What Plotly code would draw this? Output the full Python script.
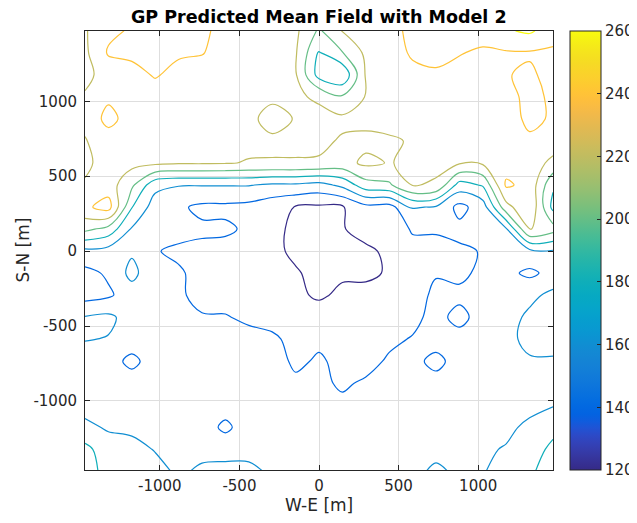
import plotly.graph_objects as go

# Grid coordinates (m)
x_coords = [-1470, -1323, -1176, -1029, -882, -735, -588, -441, -294, -147, 0,
            147, 294, 441, 588, 735, 882, 1029, 1176, 1323, 1470]
y_coords_top_down = [1470, 1323, 1176, 1029, 882, 735, 588, 441, 294, 147, 0,
                     -147, -294, -441, -588, -735, -882, -1029, -1176, -1323, -1470]

# Predicted mean field, one list per W-E column, values listed from north (top) to south (bottom)
field_columns = [
    [218, 216, 215, 222, 224, 219, 216, 222, 236, 205, 155, 134, 132, 161, 161, 150, 150, 154, 164, 186, 190],
    [236, 242, 228, 236, 247, 229, 228, 230, 248, 193, 152, 143, 137, 164, 159, 148, 148, 150, 158, 168, 172],
    [242, 245, 232, 230, 230, 228, 226, 204, 181, 158, 157, 166, 150, 152, 150, 135, 149, 151, 156, 166, 170],
    [244, 246, 242, 229, 228, 228, 224, 166, 150, 148, 141, 145, 148, 150, 150, 149, 148, 150, 153, 159, 166],
    [244, 243, 233, 228, 227, 226, 222, 161, 143, 146, 137, 142, 142, 143, 146, 149, 149, 150, 151, 153, 157],
    [243, 241, 231, 229, 226, 225, 222, 161, 136, 143, 136, 135, 136, 141, 146, 149, 149, 150, 151, 155, 163],
    [235, 232, 229, 227, 225, 225, 221, 161, 136, 143, 134, 133, 134, 141, 147, 149, 149, 150, 135, 155, 164],
    [232, 230, 228, 226, 224, 224, 219, 161, 134, 137, 130, 130, 131, 137, 145, 149, 150, 151, 152, 156, 163],
    [230, 229, 227, 223, 214, 223, 219, 157, 127, 125, 125, 127, 128, 134, 143, 147, 149, 150, 151, 154, 158],
    [224, 222, 222, 222, 221, 223, 219, 157, 119, 116, 116, 122, 124, 132, 135, 137, 143, 148, 150, 152, 155],
    [197, 178, 172, 218, 224, 224, 218, 153, 117, 113, 113, 114, 117, 130, 137, 142, 143, 146, 148, 149, 150],
    [221, 199, 162, 203, 224, 218, 213, 165, 118, 119, 115, 117, 124, 131, 134, 136, 138, 143, 146, 148, 150],
    [230, 224, 222, 221, 226, 215, 224, 192, 134, 126, 117, 116, 126, 131, 134, 135, 142, 146, 148, 150, 152],
    [236, 233, 230, 229, 228, 217, 219, 197, 132, 128, 123, 122, 130, 134, 137, 142, 145, 147, 148, 150, 152],
    [243, 242, 236, 232, 229, 222, 224, 221, 162, 142, 134, 134, 134, 136, 141, 144, 146, 148, 149, 151, 153],
    [244, 244, 238, 232, 229, 228, 224, 218, 158, 142, 134, 139, 143, 145, 146, 136, 145, 148, 150, 152, 165],
    [244, 241, 234, 231, 228, 228, 222, 172, 134, 145, 137, 136, 144, 135, 146, 146, 147, 149, 151, 153, 155],
    [248, 237, 233, 231, 230, 230, 223, 182, 150, 148, 141, 144, 146, 147, 148, 149, 151, 153, 156, 158, 159],
    [258, 238, 239, 234, 232, 232, 232, 243, 213, 158, 150, 145, 150, 152, 155, 155, 154, 157, 157, 161, 166],
    [263, 238, 243, 245, 244, 237, 232, 234, 238, 222, 155, 136, 155, 164, 165, 158, 154, 156, 163, 170, 176],
    [250, 236, 234, 237, 238, 232, 214, 183, 174, 208, 158, 146, 165, 170, 170, 157, 153, 159, 174, 185, 192],
]

x_tick_values = [-1000, -500, 0, 500, 1000]
x_tick_labels = ['-1000', '-500', '0', '500', '1000']
y_tick_values = [-1000, -500, 0, 500, 1000]
y_tick_labels = ['-1000', '-500', '0', '500', '1000']
colorbar_ticks = [120, 140, 160, 180, 200, 220, 240, 260]

# MATLAB parula (64 entries)
parula_rgb = [
    (0.2081, 0.1663, 0.5292), (0.2116, 0.1898, 0.5777), (0.2123, 0.2138, 0.6270), (0.2081, 0.2386, 0.6771),
    (0.1959, 0.2645, 0.7279), (0.1707, 0.2919, 0.7792), (0.1253, 0.3242, 0.8303), (0.0591, 0.3598, 0.8683),
    (0.0117, 0.3875, 0.8820), (0.0060, 0.4086, 0.8828), (0.0165, 0.4266, 0.8786), (0.0329, 0.4430, 0.8720),
    (0.0498, 0.4586, 0.8641), (0.0629, 0.4737, 0.8554), (0.0723, 0.4887, 0.8467), (0.0779, 0.5040, 0.8384),
    (0.0793, 0.5200, 0.8312), (0.0749, 0.5375, 0.8263), (0.0641, 0.5570, 0.8240), (0.0488, 0.5772, 0.8228),
    (0.0343, 0.5966, 0.8199), (0.0265, 0.6137, 0.8135), (0.0239, 0.6287, 0.8038), (0.0231, 0.6418, 0.7913),
    (0.0228, 0.6535, 0.7768), (0.0267, 0.6642, 0.7607), (0.0384, 0.6743, 0.7436), (0.0590, 0.6838, 0.7254),
    (0.0843, 0.6928, 0.7062), (0.1133, 0.7015, 0.6859), (0.1453, 0.7098, 0.6646), (0.1801, 0.7177, 0.6424),
    (0.2178, 0.7250, 0.6193), (0.2586, 0.7317, 0.5954), (0.3022, 0.7376, 0.5712), (0.3482, 0.7424, 0.5473),
    (0.3953, 0.7459, 0.5244), (0.4420, 0.7481, 0.5033), (0.4871, 0.7491, 0.4840), (0.5300, 0.7491, 0.4661),
    (0.5709, 0.7485, 0.4494), (0.6099, 0.7473, 0.4337), (0.6473, 0.7456, 0.4188), (0.6834, 0.7435, 0.4044),
    (0.7184, 0.7411, 0.3905), (0.7525, 0.7384, 0.3768), (0.7858, 0.7356, 0.3633), (0.8185, 0.7327, 0.3498),
    (0.8507, 0.7299, 0.3360), (0.8824, 0.7274, 0.3217), (0.9139, 0.7258, 0.3063), (0.9450, 0.7261, 0.2886),
    (0.9739, 0.7314, 0.2666), (0.9938, 0.7455, 0.2403), (0.9990, 0.7653, 0.2164), (0.9955, 0.7861, 0.1967),
    (0.9880, 0.8066, 0.1794), (0.9789, 0.8271, 0.1633), (0.9697, 0.8481, 0.1475), (0.9626, 0.8705, 0.1309),
    (0.9589, 0.8949, 0.1132), (0.9598, 0.9218, 0.0948), (0.9661, 0.9514, 0.0755), (0.9763, 0.9831, 0.0538),
]
n = len(parula_rgb)
parula = [[k / (n - 1), 'rgb(%d,%d,%d)' % (round(r * 255), round(g * 255), round(b * 255))]
          for k, (r, g, b) in enumerate(parula_rgb)]

# Build z (rows from south to north)
nrows = len(y_coords_top_down)
y_coords = list(reversed(y_coords_top_down))
z_rows = [[col[nrows - 1 - r] for col in field_columns] for r in range(nrows)]

AX = '#262626'
fig = go.Figure()
fig.add_trace(go.Contour(
    x=x_coords, y=y_coords, z=z_rows,
    colorscale=parula, zauto=False, zmin=120, zmax=260,
    autocontour=False,
    contours=dict(start=120, end=260, size=20, coloring='lines', showlabels=False),
    line=dict(width=1.2, smoothing=1.0),
    showscale=False, hoverinfo='skip',
))
# colour bar
fig.add_trace(go.Scatter(
    x=[None], y=[None], mode='markers', showlegend=False, hoverinfo='skip',
    marker=dict(color=[120], colorscale=parula, cmin=120, cmax=260, showscale=True,
                colorbar=dict(x=1.0363, xanchor='left', y=0.5, yanchor='middle', len=1.0,
                              lenmode='fraction', thickness=31, thicknessmode='pixels',
                              outlinewidth=1, outlinecolor=AX, ticks='inside', ticklen=4,
                              tickcolor=AX, tickvals=colorbar_ticks,
                              ticktext=[str(v) for v in colorbar_ticks],
                              tickfont=dict(size=15, color=AX), xpad=0, ypad=0)),
))

axis_common = dict(ticks='inside', ticklen=5, tickcolor=AX, tickwidth=1,
                   showline=True, linecolor=AX, linewidth=1, mirror='ticks',
                   showgrid=True, gridcolor='#dedede', gridwidth=1, zeroline=False,
                   tickfont=dict(size=15, color=AX), automargin=False)
# the page body adds an 8 px offset at the top-left, so the figure is 8 px smaller
fig.update_layout(
    width=629, height=515,
    margin=dict(l=77, r=84, t=23, b=53, autoexpand=False),
    paper_bgcolor='white', plot_bgcolor='white',
    font=dict(family='DejaVu Sans', size=15, color=AX),
    xaxis=dict(range=[-1470, 1470], tickvals=x_tick_values, ticktext=x_tick_labels,
               ticklabelstandoff=2, **axis_common),
    yaxis=dict(range=[-1461, 1469], tickvals=y_tick_values, ticktext=y_tick_labels,
               ticklabelstandoff=4, **axis_common),
    annotations=[
        dict(text='<b>GP Predicted Mean Field with Model 2</b>', xref='paper', yref='paper',
             x=0.5, y=1.0319, xanchor='center', yanchor='middle', showarrow=False,
             font=dict(size=17.5, color='black')),
        dict(text='W-E [m]', xref='paper', yref='paper', x=0.5, y=-0.0808,
             xanchor='center', yanchor='middle', showarrow=False, font=dict(size=17, color=AX)),
        dict(text='S-N [m]', xref='paper', yref='paper', x=-0.1346, y=0.5, textangle=-90,
             xanchor='center', yanchor='middle', showarrow=False, font=dict(size=17, color=AX)),
    ],
)
fig.write_html('out.html')
